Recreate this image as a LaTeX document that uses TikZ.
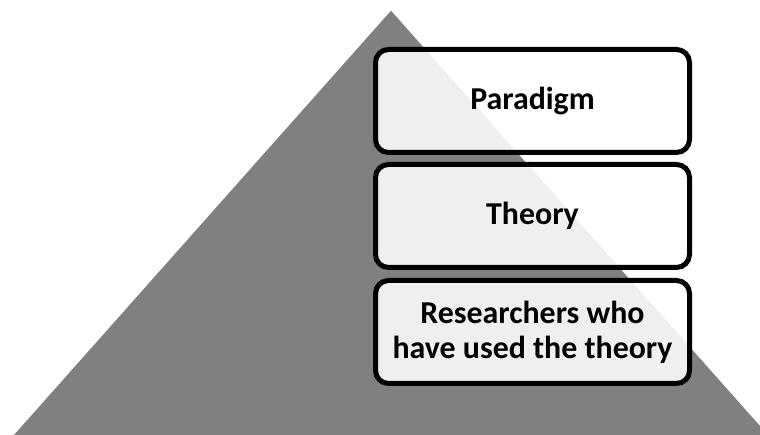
\documentclass[tikz,border=0pt]{standalone}
\usepackage{fontspec}
\setmainfont{Carlito}
\begin{document}
\begin{tikzpicture}[x=1bp,y=1bp,
  tier/.style={draw=black, line width=5bp, rounded corners=13bp, fill=white, fill opacity=0.875, text opacity=1,
    minimum width=314bp, minimum height=103bp, inner sep=0pt, align=center,
    font=\fontsize{32}{35}\selectfont\bfseries, text=black}]
\useasboundingbox (0,0) rectangle (760,435);
\clip (0,0) rectangle (760,435);
\fill[fill={rgb,255:red,128;green,128;blue,128}] (391,424.3) -- (14,0) -- (768,0) -- cycle;
\node[tier] (paradigm) at (532.5,334) {Paradigm};
\node[tier] (theory) at (532.5,219) {Theory};
\node[tier] (researchers) at (532.5,103) {Researchers who\\have used the theory};
\end{tikzpicture}
\end{document}
